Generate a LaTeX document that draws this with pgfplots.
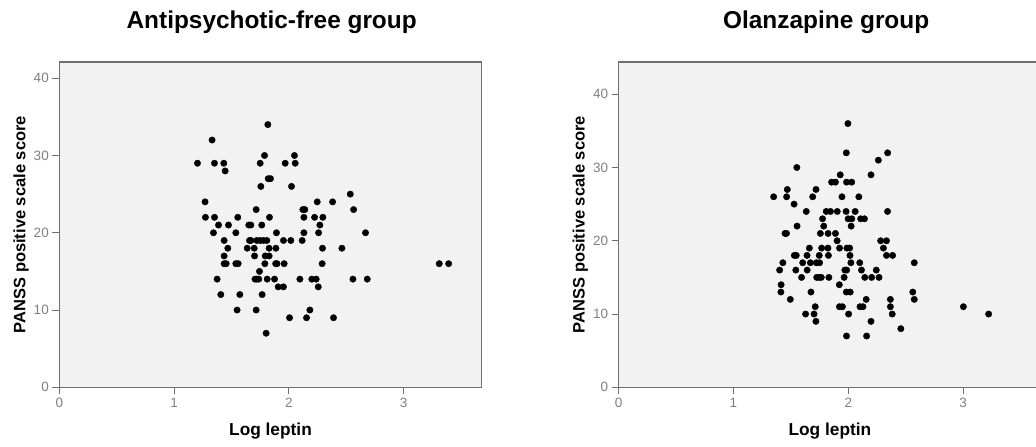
\documentclass[border=0pt]{standalone}
\usepackage{pgfplots}
\pgfplotsset{compat=1.18}
\usepackage{fontspec}
\setmainfont{Liberation Sans}

\definecolor{bgfill}{HTML}{F2F2F2}
\definecolor{linegray}{HTML}{707070}
\definecolor{tickgray}{HTML}{808080}

\pgfplotsset{
  spss/.style={
    scale only axis,
    width=422.4pt, height=325.3pt,
    xmin=0, xmax=3.68, ymin=0,
    axis background/.style={fill=bgfill},
    axis line style={draw=linegray, line width=1.2pt},
    xtick={0,1,2,3}, ytick={0,10,20,30,40},
    xtick pos=left, ytick pos=left,
    tick align=outside, major tick length=7pt,
    tick style={draw=linegray, line width=1pt},
    ticklabel style={font=\fontsize{13.5}{16}\selectfont, text=tickgray},
    /pgf/number format/assume math mode=true,
    xlabel={Log leptin},
    ylabel={PANSS positive scale score},
    label style={font=\bfseries\fontsize{17.3}{20}\selectfont},
    xlabel style={at={(axis description cs:0.5,-0.1476)}, anchor=base},
    ylabel style={at={(axis description cs:-0.0805,0.5)}, anchor=base, font=\bfseries\fontsize{16.5}{20}\selectfont},
    title style={anchor=base, yshift=0pt, font=\bfseries\fontsize{24.4}{28}\selectfont},
  },
  dots/.style={only marks, mark=*, mark size=3.2pt, color=black},
}

\begin{document}
\begin{tikzpicture}
\path[use as bounding box] (0,0) rectangle (1036pt,447pt);

% antipsychotic-free group
\begin{axis}[spss, at={(59.3pt,59.7pt)}, anchor=south west, ymax=42.1,
    title={Antipsychotic-free group},
    title style={at={(axis description cs:0.5028,1.0851)}}]
\addplot[dots] coordinates {
(1.817,34)
(1.331,32)
(1.788,30) (2.049,30)
(1.204,29) (1.352,29) (1.433,29) (1.750,29) (1.968,29) (2.055,29)
(1.445,28)
(1.820,27) (1.840,27)
(1.756,26) (2.023,26)
(2.535,25)
(1.270,24) (2.247,24) (2.381,24)
(1.715,23) (2.122,23) (2.139,23) (2.564,23)
(1.273,22) (1.352,22) (1.555,22) (1.831,22) (2.131,22) (2.224,22) (2.296,22)
(1.387,21) (1.474,21) (1.651,21) (1.669,21) (1.764,21) (2.270,21)
(1.343,20) (1.538,20) (1.892,20) (2.131,20) (2.259,20) (2.668,20)
(1.436,19) (1.657,19) (1.669,19) (1.721,19) (1.750,19) (1.779,19) (1.808,19) (1.953,19) (2.017,19) (2.116,19)
(1.468,18) (1.637,18) (1.698,18) (1.828,18) (1.887,18) (2.293,18) (2.462,18)
(1.436,17) (1.701,17) (1.794,17) (1.828,17)
(1.436,16) (1.454,16) (1.538,16) (1.558,16) (1.791,16) (1.885,16) (1.897,16) (1.959,16) (2.290,16) (3.310,16) (3.392,16)
(1.744,15)
(1.375,14) (1.705,14) (1.721,14) (1.738,14) (1.811,14) (1.875,14) (2.096,14) (2.200,14) (2.238,14) (2.558,14) (2.683,14)
(1.907,13) (1.953,13) (2.256,13)
(1.407,12) (1.573,12) (1.767,12)
(1.549,10) (1.715,10) (2.183,10)
(2.006,9) (2.154,9) (2.389,9)
(1.802,7)
};
\end{axis}

% olanzapine group
\begin{axis}[spss, at={(618.7pt,59.7pt)}, anchor=south west, ymax=44.4,
    title={Olanzapine group},
    title style={at={(axis description cs:0.4912,1.0851)}}]
\addplot[dots] coordinates {
(1.997,36)
(1.983,32) (2.343,32)
(2.262,31)
(1.552,30)
(1.930,29) (2.198,29)
(1.855,28) (1.888,28) (1.985,28) (2.030,28)
(1.469,27) (1.719,27)
(1.350,26) (1.463,26) (1.690,26) (1.945,26) (2.092,26)
(1.528,25)
(1.634,24) (1.808,24) (1.845,24) (1.904,24) (1.981,24) (2.060,24) (2.342,24)
(1.776,23) (1.999,23) (2.031,23) (2.108,23) (2.141,23)
(1.554,22) (1.786,22) (2.025,22)
(1.449,21) (1.462,21) (1.757,21) (1.824,21) (1.888,21)
(1.903,20) (2.282,20) (2.333,20)
(1.661,19) (1.768,19) (1.823,19) (1.924,19) (1.988,19) (2.012,19) (2.306,19)
(1.530,18) (1.547,18) (1.641,18) (1.747,18) (1.827,18) (2.015,18) (2.333,18) (2.386,18)
(1.430,17) (1.603,17) (1.670,17) (1.722,17) (1.750,17) (2.023,17) (2.100,17) (2.575,17)
(1.402,16) (1.543,16) (1.642,16) (1.970,16) (1.986,16) (2.115,16) (2.244,16)
(1.593,15) (1.725,15) (1.746,15) (1.765,15) (1.831,15) (1.964,15) (2.144,15) (2.204,15) (2.268,15)
(1.415,14) (1.922,14)
(1.413,13) (1.675,13) (1.983,13) (2.017,13) (2.562,13)
(1.495,12) (2.156,12) (2.367,12) (2.575,12)
(1.712,11) (1.923,11) (1.949,11) (2.102,11) (2.128,11) (2.367,11) (3.003,11)
(1.628,10) (1.702,10) (2.003,10) (2.383,10) (3.223,10)
(1.718,9) (2.198,9)
(2.458,8)
(1.985,7) (2.160,7)
};
\end{axis}
\end{tikzpicture}
\end{document}
